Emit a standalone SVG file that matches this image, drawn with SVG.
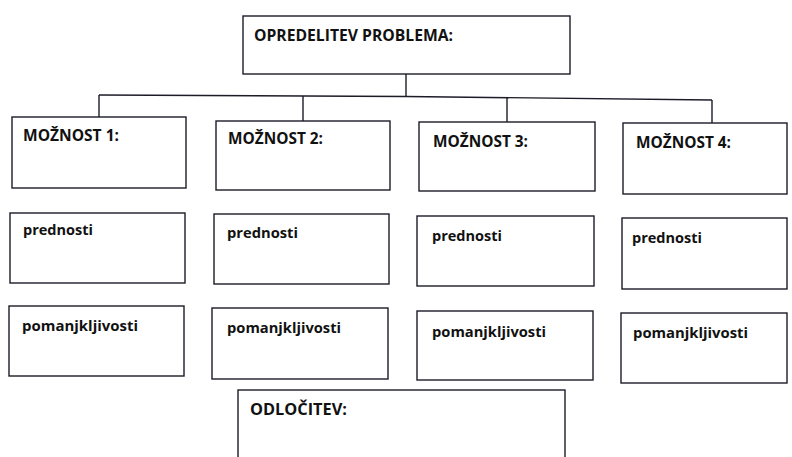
<svg xmlns="http://www.w3.org/2000/svg" width="792" height="457" viewBox="0 0 792 457">
<style>
.box{fill:#fff;stroke:#1c1c28;stroke-width:1.4}
.con{fill:none;stroke:#1c1c28;stroke-width:1.4}
text{font-family:"Open Sans","Liberation Sans",sans-serif;font-weight:700;font-size:15px;fill:#111}
.cap{font-size:16px}
</style>
<rect width="792" height="457" fill="#fff"/>
<g id="connectors">
<line class="con" x1="406" y1="74" x2="406" y2="96.5"/>
<polyline class="con" points="99,95 406,96.5 712,100"/>
<line class="con" x1="99" y1="95" x2="99" y2="117"/>
<line class="con" x1="303" y1="96" x2="303" y2="121"/>
<line class="con" x1="507" y1="97.5" x2="507" y2="122"/>
<line class="con" x1="712" y1="100" x2="712" y2="123"/>
</g>
<g id="problem"><rect class="box" x="243" y="16" width="327" height="58"/><text class="cap" x="254" y="41" textLength="199" lengthAdjust="spacingAndGlyphs">OPREDELITEV PROBLEMA:</text></g>
<g id="moznost1"><rect class="box" x="12" y="117" width="174" height="71"/><text class="cap" x="23" y="141" textLength="96" lengthAdjust="spacingAndGlyphs">MOŽNOST 1:</text></g>
<g id="moznost2"><rect class="box" x="216" y="121" width="174" height="69"/><text class="cap" x="228" y="144" textLength="95" lengthAdjust="spacingAndGlyphs">MOŽNOST 2:</text></g>
<g id="moznost3"><rect class="box" x="419" y="122" width="176" height="69"/><text class="cap" x="433" y="147" textLength="95" lengthAdjust="spacingAndGlyphs">MOŽNOST 3:</text></g>
<g id="moznost4"><rect class="box" x="623" y="123" width="164" height="71"/><text class="cap" x="636" y="148" textLength="95" lengthAdjust="spacingAndGlyphs">MOŽNOST 4:</text></g>
<g id="prednosti1"><rect class="box" x="10" y="213" width="175" height="70"/><text x="23" y="235" textLength="70" lengthAdjust="spacingAndGlyphs">prednosti</text></g>
<g id="prednosti2"><rect class="box" x="214" y="214" width="175" height="70"/><text x="227" y="238" textLength="71" lengthAdjust="spacingAndGlyphs">prednosti</text></g>
<g id="prednosti3"><rect class="box" x="417" y="216" width="177" height="70"/><text x="432" y="241" textLength="70" lengthAdjust="spacingAndGlyphs">prednosti</text></g>
<g id="prednosti4"><rect class="box" x="622" y="218" width="165" height="71"/><text x="632" y="243" textLength="70" lengthAdjust="spacingAndGlyphs">prednosti</text></g>
<g id="pomanjkljivosti1"><rect class="box" x="9" y="306" width="175" height="70"/><text x="22" y="331" textLength="116" lengthAdjust="spacingAndGlyphs">pomanjkljivosti</text></g>
<g id="pomanjkljivosti2"><rect class="box" x="212" y="308" width="176" height="71"/><text x="227" y="333" textLength="114" lengthAdjust="spacingAndGlyphs">pomanjkljivosti</text></g>
<g id="pomanjkljivosti3"><rect class="box" x="417" y="311" width="176" height="69"/><text x="432" y="337" textLength="114" lengthAdjust="spacingAndGlyphs">pomanjkljivosti</text></g>
<g id="pomanjkljivosti4"><rect class="box" x="621" y="313" width="166" height="70"/><text x="633" y="338" textLength="115" lengthAdjust="spacingAndGlyphs">pomanjkljivosti</text></g>
<g id="odlocitev"><rect class="box" x="238" y="390" width="327" height="80"/><text class="cap" x="250" y="415" textLength="97" lengthAdjust="spacingAndGlyphs">ODLOČITEV:</text></g>
</svg>
